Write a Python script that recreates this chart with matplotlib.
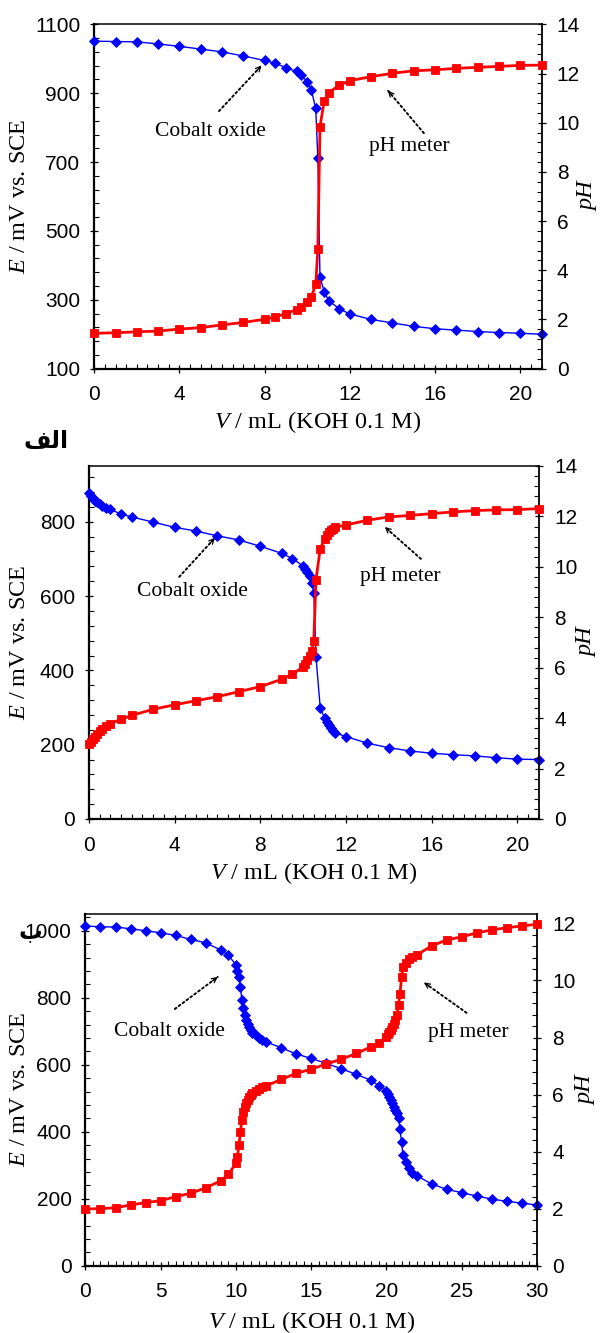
import matplotlib
matplotlib.use('Agg')
import matplotlib.pyplot as plt
from matplotlib.ticker import FixedLocator
import numpy as np

plt.rcParams['mathtext.fontset'] = 'custom'
plt.rcParams['mathtext.rm'] = 'Liberation Serif'
plt.rcParams['mathtext.it'] = 'Liberation Serif:italic'

# ---------------- data ----------------
# Panel 1 (الف, top)
v1 = [0, 1, 2, 3, 4, 5, 6, 7, 8, 8.5, 9, 9.5, 9.7, 10, 10.2, 10.4, 10.5, 10.6, 10.8,
      11, 11.5, 12, 13, 14, 15, 16, 17, 18, 19, 20, 21]
e1 = [1051, 1050, 1049, 1043, 1036, 1028, 1020, 1008, 995, 987, 974, 963, 954, 933, 908,
      856, 711, 365, 324, 298, 274, 259, 243, 233, 223, 216, 212, 208, 205, 203, 200]
ph1 = [1.44, 1.46, 1.50, 1.53, 1.61, 1.67, 1.78, 1.88, 2.01, 2.10, 2.24, 2.40, 2.49, 2.70,
       2.93, 3.43, 4.85, 9.84, 10.88, 11.22, 11.52, 11.71, 11.87, 12.01, 12.11, 12.15,
       12.21, 12.25, 12.29, 12.33, 12.34]

# Panel 2 (middle)
v2 = [0, 0.1, 0.2, 0.3, 0.4, 0.5, 0.6, 0.8, 1.0, 1.5, 2, 3, 4, 5, 6, 7, 8, 9, 9.5, 10,
      10.1, 10.2, 10.3, 10.4, 10.5, 10.6, 10.8, 11, 11.1, 11.2, 11.3, 11.4, 11.5, 12, 13,
      14, 15, 16, 17, 18, 19, 20, 21]
e2 = [876, 870, 864, 857, 852, 848, 843, 838, 833, 821, 813, 799, 785, 775, 762, 751, 734,
      715, 701, 681, 674, 665, 653, 636, 609, 437, 300, 272, 262, 253, 245, 238, 232, 222,
      204, 192, 183, 177, 173, 170, 165, 161, 160]
ph2 = [2.97, 3.07, 3.16, 3.27, 3.37, 3.48, 3.58, 3.70, 3.78, 3.95, 4.11, 4.35, 4.53, 4.69,
       4.85, 5.05, 5.25, 5.54, 5.74, 6.03, 6.16, 6.29, 6.45, 6.65, 7.07, 9.48, 10.72, 11.09,
       11.26, 11.38, 11.46, 11.52, 11.57, 11.66, 11.85, 11.98, 12.04, 12.11, 12.18, 12.23,
       12.26, 12.27, 12.31]

# Panel 3 (ب, bottom)
v3 = [0, 1, 2, 3, 4, 5, 6, 7, 8, 9, 9.5, 10, 10.1, 10.2, 10.3, 10.4, 10.5, 10.6, 10.7,
      10.8, 10.9, 11, 11.1, 11.3, 11.5, 11.7, 12, 13, 14, 15, 16, 17, 18, 19, 19.5, 20,
      20.1, 20.2, 20.3, 20.4, 20.5, 20.6, 20.7, 20.8, 20.9, 21, 21.1, 21.3, 21.5, 21.7, 22,
      23, 24, 25, 26, 27, 28, 29, 30]
e3 = [1014, 1012, 1011, 1006, 1000, 994, 986, 974, 964, 942, 927, 898, 881, 861, 831, 793,
      768, 748, 735, 723, 713, 703, 696, 688, 680, 674, 668, 651, 632, 619, 604, 588, 571,
      553, 537, 521, 514, 504, 495, 485, 475, 465, 457, 442, 407, 368, 330, 309, 292, 278,
      269, 244, 228, 218, 208, 199, 192, 187, 181]
ph3 = [1.99, 2.00, 2.03, 2.13, 2.21, 2.28, 2.42, 2.54, 2.73, 2.98, 3.20, 3.59, 3.82, 4.23,
       4.70, 5.11, 5.40, 5.57, 5.69, 5.81, 5.90, 5.98, 6.04, 6.12, 6.18, 6.25, 6.30, 6.53,
       6.74, 6.89, 7.07, 7.24, 7.44, 7.68, 7.82, 8.03, 8.12, 8.21, 8.28, 8.38, 8.49, 8.61,
       8.79, 9.14, 9.52, 10.11, 10.46, 10.60, 10.74, 10.83, 10.89, 11.21, 11.42, 11.53,
       11.67, 11.77, 11.85, 11.91, 11.97]

panel_tags = ['\ufed2\ufedf\ufe8d', '\u0628']   # الف , ب
annot_texts = ['Cobalt oxide', 'pH meter']
xlabel = r'$\mathit{V}$ / mL (KOH 0.1 M)'
ylabel_left = r'$\mathit{E}$ / mV vs. SCE'
ylabel_right = 'pH'

# ---------------- figure ----------------
W, H = 600, 1333
fig = plt.figure(figsize=(6, 13.33), dpi=100)
fig.patch.set_facecolor('white')

SANS = 'Liberation Sans'
SERIF = 'Liberation Serif'


def box(l, t, r, b):
    return [l / W, 1 - b / H, (r - l) / W, (b - t) / H]


def arrow(ax, tail, head):
    ax.annotate('', xy=head, xytext=tail, xycoords='axes fraction',
                textcoords='axes fraction',
                arrowprops=dict(arrowstyle='-', linestyle=(0, (1, 1.5)), lw=1.4,
                                color='black', shrinkA=0, shrinkB=0))
    d = np.array(head) - np.array(tail)
    back = np.array(head) - d * 0.12
    ax.annotate('', xy=head, xytext=tuple(back), xycoords='axes fraction',
                textcoords='axes fraction',
                arrowprops=dict(arrowstyle='->,head_length=0.35,head_width=0.18', lw=0.9,
                                color='black', shrinkA=0, shrinkB=0))


def panel(rect, v, e, ph, xlim, xmaj, xmin_step, elim, emaj, emin, phlim, phmaj, phmin,
          ylab_x, yr_x, xlab_y, annots):
    ax = fig.add_axes(rect)
    ax2 = ax.twinx()
    ax.plot(v, e, color='#0000FF', lw=1.0, marker='D', ms=5.0, mfc='#0000FF',
            mec='#0000FF', mew=0.6, clip_on=False, zorder=3)
    ax2.plot(v, ph, color='#FF0000', lw=2.0, marker='s', ms=6.3, mfc='#FF0000',
             mec='#FF0000', mew=0.6, clip_on=False, zorder=3)
    ax.set_xlim(*xlim)
    ax.set_ylim(*elim)
    ax2.set_ylim(*phlim)

    ax.xaxis.set_major_locator(FixedLocator(xmaj))
    ax.xaxis.set_minor_locator(FixedLocator(np.arange(xlim[0], xlim[1] + 1e-9, xmin_step)))
    ax.yaxis.set_major_locator(FixedLocator(emaj))
    ax.yaxis.set_minor_locator(FixedLocator(emin))
    ax2.yaxis.set_major_locator(FixedLocator(phmaj))
    ax2.yaxis.set_minor_locator(FixedLocator(phmin))

    ax.tick_params(axis='both', which='major', direction='inout', length=6, width=0.9,
                   labelsize=15, top=False, right=False)
    ax.tick_params(axis='both', which='minor', direction='in', length=3.5, width=0.8,
                   top=False, right=False)
    ax.tick_params(axis='x', which='major', pad=9)
    ax.tick_params(axis='y', which='major', pad=7)
    ax2.tick_params(axis='y', which='major', direction='inout', length=6, width=0.9,
                    labelsize=15, pad=8)
    ax2.tick_params(axis='y', which='minor', direction='in', length=3.5, width=0.8)
    for lab in ax.get_xticklabels() + ax.get_yticklabels() + ax2.get_yticklabels():
        lab.set_fontfamily(SANS)

    ax.spines['left'].set_linewidth(1.6)
    ax.spines['bottom'].set_linewidth(1.6)
    ax.spines['top'].set_linewidth(1.1)
    ax.spines['right'].set_visible(False)
    for s in ('left', 'bottom', 'top'):
        ax2.spines[s].set_visible(False)
    ax2.spines['right'].set_linewidth(1.3)

    ax.set_xlabel(xlabel, fontsize=17.5, fontfamily=SERIF)
    ax.xaxis.set_label_coords(0.5, xlab_y)
    ax.xaxis.label.set_va('center')
    ax.set_ylabel(ylabel_left, fontsize=17.5, fontfamily=SERIF)
    ax.yaxis.set_label_coords(ylab_x, 0.5)
    ax.yaxis.label.set_va('center')
    ax2.set_ylabel(ylabel_right, fontsize=17.5, fontfamily=SERIF, fontstyle='italic',
                   rotation=90)
    ax2.yaxis.set_label_coords(yr_x, 0.5)
    ax2.yaxis.label.set_va('center')

    for txt, tpos, tail, head in zip(annot_texts, *annots):
        ax.text(tpos[0], tpos[1], txt, transform=ax.transAxes, ha='center', va='center',
                fontsize=15.5, fontfamily=SERIF)
        arrow(ax, tail, head)
    return ax, ax2


# Panel 1
panel(box(94.2, 24.3, 541.5, 368.7), v1, e1, ph1,
      (0, 21), [0, 4, 8, 12, 16, 20], 0.5,
      (100, 1100), [100, 300, 500, 700, 900, 1100], np.arange(100, 1101, 40),
      (0, 14), np.arange(0, 15, 2), np.arange(0, 14.01, 0.4),
      -0.168, 1.104, -0.154,
      ([(0.259, 0.690), (0.704, 0.644)],
       [(0.279, 0.748), (0.737, 0.684)],
       [(0.374, 0.880), (0.657, 0.807)]))

# Panel 2
panel(box(88.8, 466, 538.8, 819), v2, e2, ph2,
      (0, 21), [0, 4, 8, 12, 16, 20], 0.5,
      (0, 950), [0, 200, 400, 600, 800], np.arange(0, 951, 40),
      (0, 14), np.arange(0, 15, 2), np.arange(0, 14.01, 0.4),
      -0.155, 1.106, -0.153,
      ([(0.230, 0.644), (0.692, 0.686)],
       [(0.201, 0.686), (0.738, 0.737)],
       [(0.280, 0.796), (0.658, 0.827)]))

# Panel 3
panel(box(85.4, 914, 537.0, 1265.7), v3, e3, ph3,
      (0, 30), [0, 5, 10, 15, 20, 25, 30], 0.5,
      (0, 1050), [0, 200, 400, 600, 800, 1000], np.arange(0, 1051, 40),
      (0, 12.33), np.arange(0, 13, 2), np.arange(0, 12.33, 0.4),
      -0.147, 1.109, -0.160,
      ([(0.187, 0.665), (0.849, 0.662)],
       [(0.198, 0.730), (0.844, 0.719)],
       [(0.293, 0.821), (0.750, 0.805)]))

fig.text(46 / W, 1 - 441 / H, panel_tags[0], fontsize=17, fontweight='bold',
         fontfamily='DejaVu Sans', ha='center', va='center')
fig.text(30 / W, 1 - 931 / H, panel_tags[1], fontsize=17, fontweight='bold',
         fontfamily='DejaVu Sans', ha='center', va='center')

fig.savefig('out.png', dpi=100, facecolor='white')
